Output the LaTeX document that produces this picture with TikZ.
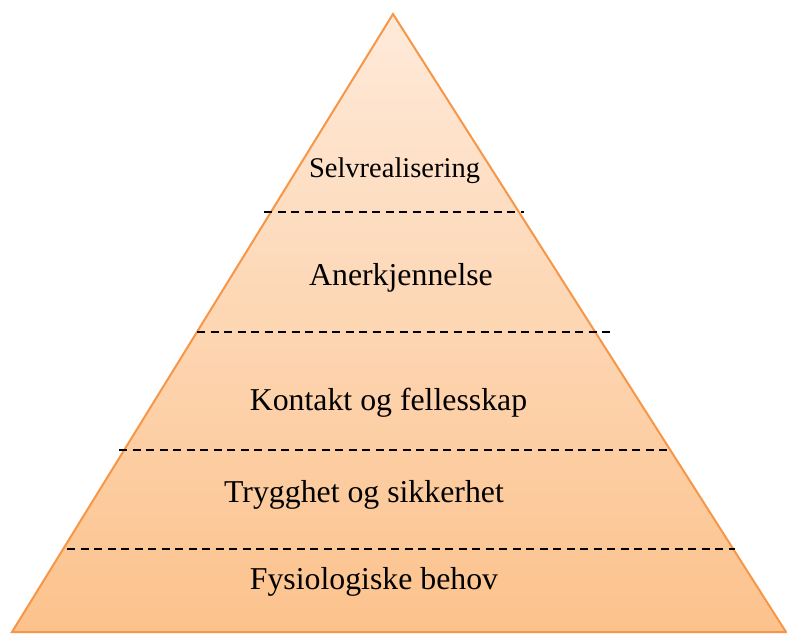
\documentclass[tikz,border=0pt]{standalone}
\usepackage{fontspec}
\setmainfont{Liberation Serif}
\definecolor{edgeorange}{RGB}{247,150,70}
\definecolor{toppeach}{RGB}{254,234,218}
\definecolor{botpeach}{RGB}{252,194,140}
\begin{document}
\begin{tikzpicture}[x=1pt,y=-1pt,
  level/.style={anchor=base,inner sep=0pt,font=\fontsize{31.8}{36}\selectfont},
  toplevel/.style={anchor=base,inner sep=0pt,font=\fontsize{28.5}{33}\selectfont},
  divider/.style={draw=black,line width=1.6pt,dash pattern=on 8pt off 5.5pt}]
\useasboundingbox (0,0) rectangle (787,635);
\coordinate (apex) at (393,14);
\coordinate (bl) at (12,632);
\coordinate (br) at (786,632);
\shade[top color=toppeach,bottom color=botpeach] (apex) -- (br) -- (bl) -- cycle;
\draw[edgeorange,line width=2pt,line join=miter] (apex) -- (br) -- (bl) -- cycle;
% dividers
\coordinate (d1a) at (264,212); \coordinate (d1b) at (524,212);
\coordinate (d2a) at (197,332); \coordinate (d2b) at (612,332);
\coordinate (d3a) at (119,450); \coordinate (d3b) at (669,450);
\coordinate (d4a) at (67,549);  \coordinate (d4b) at (735,549);
\draw[divider] (d1a) -- (d1b);
\draw[divider] (d2a) -- (d2b);
\draw[divider] (d3a) -- (d3b);
\draw[divider] (d4a) -- (d4b);
% labels
\node[toplevel] (l5) at (394.5,177) {Selvrealisering};
\node[level] (l4) at (401,285) {Anerkjennelse};
\node[level] (l3) at (388.5,410) {Kontakt og fellesskap};
\node[level] (l2) at (364,502) {Trygghet og sikkerhet};
\node[level] (l1) at (374,589) {Fysiologiske behov};
\end{tikzpicture}
\end{document}
